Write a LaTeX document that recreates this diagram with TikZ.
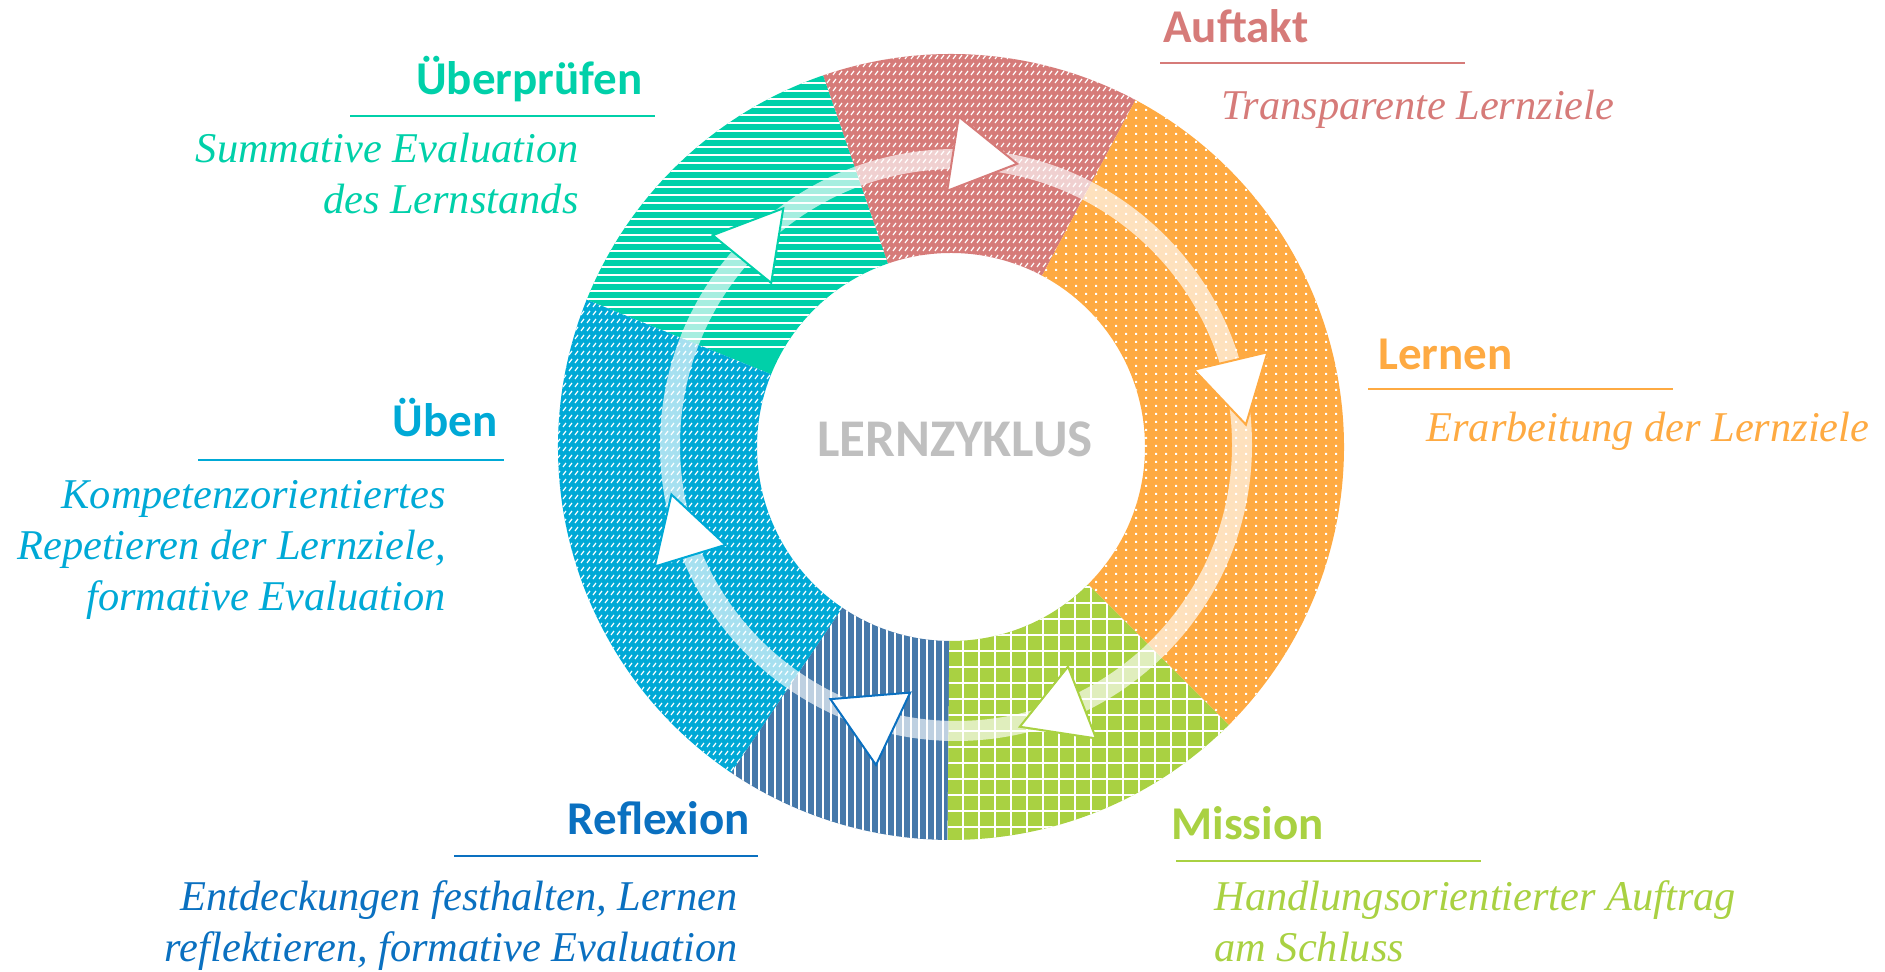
\documentclass[tikz,border=0pt]{standalone}
\usepackage{fontspec}
\setmainfont{Liberation Serif}
\newfontfamily\headfont{Carlito}
\usetikzlibrary{shapes.geometric}
\definecolor{auftakt}{HTML}{D67B79}
\definecolor{lernen}{HTML}{FEAA42}
\definecolor{mission}{HTML}{A9D142}
\definecolor{reflexion}{HTML}{4679AA}
\definecolor{reflexline}{HTML}{0A70C0}
\definecolor{ueben}{HTML}{00A9D6}
\definecolor{pruefen}{HTML}{00D0A9}
\definecolor{zyklus}{HTML}{BFBFBF}

% ring sector between two angles (outer 393, inner 194)
\newcommand\ringpart[2]{(#1:393) arc[start angle=#1, end angle=#2, radius=393]
  -- (#2:194) arc[start angle=#2, end angle=#1, radius=194] -- cycle}

\begin{document}
\begin{tikzpicture}[x=0.5pt, y=0.5pt,
  hatch/.style={white, line width=#1},
  head/.style={font=\headfont\bfseries\fontsize{23.5}{28}\selectfont, text=#1, inner sep=0pt},
  desc/.style={font=\itshape\fontsize{21.2}{25.5}\selectfont, text=#1, inner sep=0pt},
  uline/.style={draw=#1, line width=1pt},
  tri/.style={regular polygon, regular polygon sides=3, draw=#1, fill=white,
              line width=1pt, inner sep=0pt},
]
\useasboundingbox (0,0) rectangle (1885,972);

% --- Ring ---
\begin{scope}[shift={(951,525)}]
  % Auftakt: dashed diagonal
  \begin{scope}
    \clip \ringpart{62}{109};
    \fill[auftakt] (-400,-400) rectangle (400,400);
    \draw[hatch=0.6pt] \foreach \x in {-136,-130,...,192} {\foreach \y in {164,172,...,396} {(\x,\y) -- ++(3,4)}};
  \end{scope}
  % Überprüfen: horizontal lines
  \begin{scope}
    \clip \ringpart{109}{158};
    \fill[pruefen] (-400,-400) rectangle (400,400);
    \draw[hatch=0.75pt] \foreach \y in {100,108,...,396} {(-400,\y) -- (0,\y)};
  \end{scope}
  % Üben: dashed diagonal
  \begin{scope}
    \clip \ringpart{158}{236};
    \fill[ueben] (-400,-400) rectangle (400,400);
    \draw[hatch=0.6pt] \foreach \x in {-400,-394,...,-100} {\foreach \y in {-332,-324,...,156} {(\x,\y) -- ++(3,4)}};
  \end{scope}
  % Reflexion: vertical lines
  \begin{scope}
    \clip \ringpart{236}{269.5};
    \fill[reflexion] (-400,-400) rectangle (400,400);
    \draw[hatch=0.85pt] \foreach \x in {-240,-232,...,0} {(\x,-400) -- (\x,0)};
  \end{scope}
  % Mission: grid
  \begin{scope}
    \clip \ringpart{269.5}{315};
    \fill[mission] (-400,-400) rectangle (400,400);
    \draw[hatch=0.9pt] \foreach \x in {-4,12,...,300} {(\x,-400) -- (\x,0)}
      \foreach \y in {-396,-380,...,0} {(-10,\y) -- (300,\y)};
  \end{scope}
  % Lernen: dots
  \begin{scope}
    \clip \ringpart{315}{422};
    \fill[lernen] (-400,-400) rectangle (400,400);
    \fill[white] \foreach \x in {84,94,...,396} {\foreach \y in {-288,-280,...,360}
      {(\x,\y) rectangle ++(2,2)}};
  \end{scope}
\end{scope}

% --- Kreislauf ---
\coordinate (kreis) at (956,527);
\draw[white, opacity=0.65, line width=10pt] (kreis) circle[radius=286];

\node[tri=auftakt, minimum size=43.3pt, rotate=-98.9]    (pfeil1) at (974.4,814.9) {};
\node[tri=lernen, minimum size=43.6pt, rotate=-166.6]    (pfeil2) at (1235.8,589.8) {};
\node[tri=mission, minimum size=44.5pt, rotate=111.3]    (pfeil3) at (1061.3,261.4) {};
\node[tri=reflexline, minimum size=46.2pt, rotate=-175.3] (pfeil4) at (872.2,253.1) {};
\node[tri=ueben, minimum size=42.7pt, rotate=-103]       (pfeil5) at (683.9,436.7) {};
\node[tri=pruefen, minimum size=43.6pt, rotate=-39.2]    (pfeil6) at (755.7,729.8) {};

\node[font=\headfont\bfseries\fontsize{26.5}{30}\selectfont, text=zyklus, anchor=base]
  (zyklus) at (955,515) {LERNZYKLUS};

% --- Auftakt ---
\node[head=auftakt, anchor=base west] (auftakt) at (1163,929) {Auftakt};
\draw[uline=auftakt] (1160,909.3) -- (1465,909.3);
\node[desc=auftakt, anchor=base west, align=left] (auftaktText) at (1221,852) {Transparente Lernziele};

% --- Lernen ---
\node[head=lernen, anchor=base west] (lernen) at (1378,602) {Lernen};
\draw[uline=lernen] (1368,583) -- (1673,583);
\node[desc=lernen, anchor=base west, align=left] (lernenText) at (1426,530) {Erarbeitung der Lernziele};

% --- Mission ---
\node[head=mission, anchor=base west] (mission) at (1171,132) {Mission};
\draw[uline=mission] (1176,111) -- (1481,111);
\node[desc=mission, anchor=base west, align=left] (missionText) at (1214,10)
  {Handlungsorientierter Auftrag\\am Schluss};

% --- Reflexion ---
\node[head=reflexline, anchor=base east] (reflexion) at (750,137) {Reflexion};
\draw[uline=reflexline] (454,116.3) -- (758,116.3);
\node[desc=reflexline, anchor=base east, align=right] (reflexionText) at (738,10)
  {Entdeckungen festhalten, Lernen\\reflektieren, formative Evaluation};

% --- Üben ---
\node[head=ueben, anchor=base east] (ueben) at (498,535) {Üben};
\draw[uline=ueben] (198,512) -- (504,512);
\node[desc=ueben, anchor=base east, align=right] (uebenText) at (446,361)
  {Kompetenzorientiertes\\Repetieren der Lernziele,\\formative Evaluation};

% --- Überprüfen ---
\node[head=pruefen, anchor=base east] (pruefen) at (643,877) {Überprüfen};
\draw[uline=pruefen] (350,856.3) -- (655,856.3);
\node[desc=pruefen, anchor=base east, align=right] (pruefenText) at (579,758)
  {Summative Evaluation\\des Lernstands};

\end{tikzpicture}
\end{document}
